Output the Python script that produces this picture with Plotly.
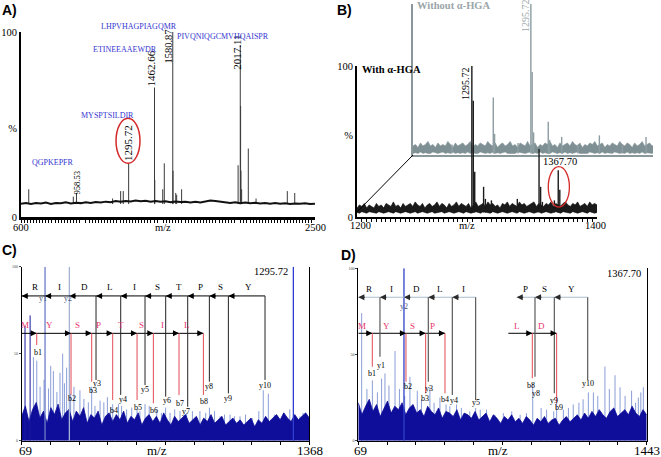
import plotly.graph_objects as go

W, H = 661, 457
SERIF = "Liberation Serif, Times New Roman, serif"
SANS = "Liberation Sans, Arial, sans-serif"

# ======================= DATA =======================
# ---- Panel A : peptide mass fingerprint, m/z 600-2500 ----
a_peak_mz = [650, 938, 958.53, 1192, 1244, 1261, 1295.72, 1462.66, 1464.5, 1516, 1526,
             1580.87, 1582.6, 1600, 1606, 1638, 2003, 2017.11, 2019.2, 2021.4, 2026, 2069,
             2119, 2321, 2369]
a_peak_int = [15, 11, 13, 10, 14, 14, 29, 70, 20, 15, 29,
              100, 25, 13, 12, 15, 28, 93, 60, 25, 15, 37,
              10, 14, 13]
a_baseline = [7.2, 7.6, 7.0, 7.5, 7.3, 7.8, 7.1, 7.6, 7.4, 7.9, 7.3, 7.7, 7.5, 8.0, 7.6,
              8.1, 7.8, 8.3, 8.0, 8.6, 8.2, 8.7, 8.4, 8.9, 8.5, 8.8, 8.3, 8.6, 8.2, 8.5,
              8.0, 8.4, 8.1, 8.3, 7.9, 8.2, 7.8, 8.4, 8.9, 8.6, 8.2, 7.9, 7.6, 7.9, 7.5,
              7.8, 7.4, 7.7, 7.3, 7.6, 7.2, 7.5, 7.1, 7.4, 7.0, 7.3, 7.1, 7.4, 7.0, 7.2]
a_mass_labels = ["958.53", "1295.72", "1462.66", "1580.87", "2017.11"]
a_mass_label_mz = [958.53, 1295.72, 1462.66, 1580.87, 2017.11]
a_peptides = ["QGPKEPFR", "MYSPTSILDIR", "ETINEEAAEWDR", "LHPVHAGPIAGQMR", "PIVQNIQGCMVHQAISPR"]
a_xticks = ["600", "m/z", "2500"]
a_yticks = ["0", "%", "100"]

# ---- Panel B : zoom 1200-1400, without / with alpha-HGA ----
bg_peak_mz = [1230, 1247.8, 1264.4, 1265.5, 1285, 1295.72, 1296.8, 1298, 1310.2, 1311.3,
              1321.4, 1335, 1352.8, 1372, 1391.7]
bg_peak_int = [7, 8, 38, 14, 8, 100, 55, 15, 22, 10, 12, 7, 13, 7, 12]
bg_noise_hi = [6, 7, 5, 8, 6, 7, 9, 6, 7, 5, 8, 6, 7, 6, 9, 7, 5, 8, 6, 7,
               8, 6, 7, 9, 5, 7, 6, 8, 7, 6, 9, 7, 6, 8, 5, 7, 8, 6, 7, 9,
               6, 7, 5, 8, 7, 6, 9, 6, 7, 8, 5, 7, 6, 8, 7, 9, 6, 7, 5, 8,
               6, 7, 8, 6, 9, 7, 6, 8, 5, 7, 6, 8, 7, 9, 6, 7, 8, 5, 7, 6,
               8, 7, 6, 9, 7, 6, 8, 7, 5, 8, 6, 7, 9, 6, 7, 8, 6, 7, 5, 8]
bg_noise_lo = [1, 1.5, 1, 2, 1, 1.5, 1, 1, 2, 1.5, 1, 1.5, 2, 1, 1.5, 1, 2, 1, 1.5, 1,
               1.5, 1, 2, 1, 1.5, 1, 1, 2, 1.5, 1, 1.5, 1, 2, 1, 1.5, 1, 1.5, 2, 1, 1,
               1.5, 1, 2, 1.5, 1, 1, 1.5, 2, 1, 1.5, 1, 2, 1, 1.5, 1, 1, 2, 1.5, 1, 1.5,
               1, 2, 1, 1.5, 1, 1.5, 2, 1, 1, 1.5, 1, 2, 1.5, 1, 1.5, 1, 2, 1, 1.5, 1,
               1, 2, 1.5, 1, 1.5, 1, 2, 1, 1.5, 1, 1.5, 1, 2, 1, 1.5, 1, 1, 2, 1.5, 1]
bw_peak_mz = [1295.72, 1296.9, 1298.1, 1305.5, 1307, 1312, 1333.6, 1351.7, 1353, 1354.5,
              1364.5, 1367.70, 1369, 1370.3]
bw_peak_int = [100, 77, 30, 20, 12, 11, 12, 45, 20, 10, 11, 31, 18, 8]
bw_noise_hi = [6, 8, 7, 9, 6, 8, 7, 6, 9, 7, 8, 6, 9, 8, 7, 10, 7, 8, 6, 9,
               7, 8, 9, 7, 10, 8, 7, 9, 6, 8, 9, 7, 8, 10, 7, 9, 8, 6, 9, 7,
               8, 10, 7, 9, 8, 7, 9, 6, 8, 10, 7, 8, 9, 7, 10, 8, 9, 7, 8, 6,
               9, 8, 10, 7, 9, 8, 7, 10, 8, 9, 7, 8, 9, 10, 7, 9, 8, 7, 9, 8,
               10, 7, 9, 8, 7, 9, 10, 8, 7, 9, 8, 10, 7, 8, 9, 7, 10, 8, 9, 8]
bw_noise_lo = [3, 2.5, 3.5, 3, 2.5, 3.5, 3, 3, 2.5, 3.5, 3, 2.5, 3, 3.5, 3, 2.5, 3.5, 3, 2.5, 3,
               3.5, 3, 2.5, 3, 3.5, 2.5, 3, 3.5, 3, 2.5, 3, 3.5, 2.5, 3, 3, 3.5, 2.5, 3, 3.5, 3,
               2.5, 3, 3.5, 3, 2.5, 3.5, 3, 2.5, 3, 3.5, 3, 2.5, 3.5, 3, 3, 2.5, 3.5, 3, 2.5, 3,
               3.5, 3, 2.5, 3, 3.5, 3, 2.5, 3.5, 3, 2.5, 3, 3.5, 3, 2.5, 3, 3.5, 2.5, 3, 3.5, 3,
               2.5, 3, 3.5, 3, 2.5, 3.5, 3, 3, 2.5, 3.5, 3, 2.5, 3, 3.5, 3, 2.5, 3.5, 3, 2.5, 3]
b_xticks = ["1200", "m/z", "1400"]
b_yticks = ["0", "%", "100"]

# ---- Panel C : MS/MS of 1295.72 (MYSPTSILDIR) ----
c_noise = [14, 20, 11, 18, 22, 13, 17, 10, 19, 15, 21, 12, 16, 18, 11, 17, 14, 19, 10, 15,
           13, 17, 9, 14, 16, 11, 15, 12, 17, 10, 14, 12, 16, 9, 13, 15, 11, 14, 10, 16,
           12, 9, 14, 11, 13, 15, 10, 12, 14, 9, 13, 11, 15, 10, 12, 14, 9, 11, 13, 10,
           12, 9, 11, 13, 8, 12, 10, 14, 11, 13, 15, 12, 16, 13, 11, 15, 12, 14, 16, 13]
c_spike_mz = [122, 137, 152, 170, 190, 200, 212, 228, 242, 254, 262, 272, 290, 305, 332, 350,
              370, 385, 400, 423, 440, 456, 470, 480, 506, 520, 543, 566, 590, 603, 626, 645,
              679, 700, 719, 739, 760, 784, 814, 840, 874, 900, 917, 940, 965, 985, 1010,
              1030, 1055, 1080, 1110, 1140, 1160, 1183, 1210, 1251, 1280, 1300, 1326, 1340, 1356]
c_spike_int = [48, 46, 31, 35, 30, 43, 40, 28, 39, 50, 33, 42, 27, 31, 29, 24,
               22, 31, 20, 23, 22, 25, 19, 21, 21, 20, 18, 19, 18, 17, 21, 20,
               18, 16, 19, 16, 18, 17, 16, 17, 17, 16, 19, 17, 14, 15, 15,
               14, 14, 15, 13, 17, 29, 27, 15, 16, 18, 14, 14, 16, 15]
c_dark_mz = [84, 107]
c_dark_int = [66, 72]
c_tall_mz = [174.4, 284.3, 1296]
c_tall_int = [100, 100, 100]
c_y_ions = ["y1", "y2", "y3", "y4", "y5", "y6", "y7", "y8", "y9", "y10"]
c_y_mz = [174.4, 284.3, 404.7, 516.2, 626, 719.4, 818.8, 916.6, 1002.5, 1168]
c_y_res = ["R", "I", "D", "L", "I", "S", "T", "P", "S", "Y"]
c_b_ions = ["b1", "b2", "b3", "b4", "b5", "b6", "b7", "b8"]
c_b_mz = [136.8, 291.8, 385.2, 480, 590, 663.7, 779.6, 889.6]
c_b_res = ["M", "Y", "S", "P", "T", "S", "I", "L"]
c_xticks = ["69", "m/z", "1368"]

# ---- Panel D : MS/MS of 1367.70 ----
d_noise = [22, 15, 20, 24, 17, 21, 14, 19, 23, 16, 20, 18, 22, 15, 19, 21, 16, 18, 14, 20,
           17, 15, 19, 13, 17, 16, 14, 18, 12, 16, 15, 13, 17, 12, 14, 16, 11, 15, 13, 10,
           14, 12, 15, 11, 13, 10, 14, 12, 9, 13, 11, 14, 10, 12, 13, 9, 12, 14, 11, 13,
           15, 12, 16, 13, 17, 14, 18, 15, 13, 17, 19, 14, 16, 18, 15, 20, 16, 14, 18, 15]
d_spike_mz = [85, 110, 136, 160, 180, 196, 215, 244, 265, 290, 315, 350, 370, 410, 430, 458,
              487, 505, 537, 560, 600, 628, 650, 680, 720, 760, 800, 840, 870, 900, 940, 966,
              1000, 1014, 1046, 1070, 1093, 1120, 1140, 1165, 1189, 1210, 1244, 1265, 1292,
              1316, 1340, 1371, 1390, 1403, 1415, 1427]
d_spike_int = [74, 30, 35, 28, 36, 39, 32, 52, 30, 26, 37, 29, 24, 31, 22, 25,
               21, 20, 21, 19, 17, 19, 18, 18, 15, 16, 17, 15, 16, 33, 19, 18,
               17, 22, 18, 19, 21, 22, 24, 28, 28, 26, 43, 30, 38,
               31, 26, 29, 22, 25, 28, 31]
d_tall_mz = [286.6]
d_tall_int = [100]
d_y_ions = ["y1", "y3", "y4", "y5", "y8", "y9", "y10"]
d_y_mz = [172.2, 402.6, 517, 628, 910.8, 1003, 1161.8]
d_y_seg = [(69, 172.2), (172.2, 286.6), (286.6, 402.6), (402.6, 517), (517, 628),
           (823.5, 910.8), (910.8, 1003), (1003, 1161.8)]
d_y_res = ["R", "I", "D", "L", "I", "P", "S", "Y"]
d_b_ions = ["b1", "b2", "b3", "b4", "b8", "b9"]
d_b_mz = [135.7, 296.1, 389.9, 482, 898, 1014]
d_b_seg = [(69, 135.7), (135.7, 296.1), (296.1, 389.9), (389.9, 482), (783.8, 898), (898, 1014)]
d_b_res = ["M", "Y", "S", "P", "L", "D"]
d_xticks = ["69", "m/z", "1443"]

# ======================= LAYOUT / STYLE =======================
def dom_x(p0, p1):
    return [p0 / W, p1 / W]

def dom_y(top, bottom):
    return [1 - bottom / H, 1 - top / H]

def py(p):
    return 1 - p / H

RED = "#e24a55"
REDTXT = "#e8336b"
BLUE_TXT = "#3535d0"
NAVY = "#0e0e9a"
LIGHTBLUE = "#8a9ed8"
GRAY = "#7f9095"

A_DOMX = dom_x(21, 315)
A_DOMY = dom_y(32, 217)

def a_paper_y(v):
    # intensity value (0-100) of panel A -> paper fraction (for text above the axis range)
    return A_DOMY[0] + v / 100 * (A_DOMY[1] - A_DOMY[0])

fig = go.Figure()

def add_lines(X, Y, xa, ya, color, width, fill=None, fillcolor=None):
    fig.add_trace(go.Scatter(x=X, y=Y, mode="lines", line=dict(color=color, width=width),
                             fill=fill, fillcolor=fillcolor, xaxis=xa, yaxis=ya,
                             hoverinfo="skip", showlegend=False))

def sticks(xs, ys, base):
    X, Y = [], []
    for x, y in zip(xs, ys):
        X += [x, x, None]
        Y += [base, y, None]
    return X, Y

def grid(start, stop, n):
    step = (stop - start) / (n - 1)
    return [start + i * step for i in range(n)]

# ---------- Panel A ----------
X, Y = sticks(a_peak_mz, a_peak_int, 7)
add_lines(X, Y, "x", "y", "#3a3a3a", 1)
add_lines(grid(600, 2500, len(a_baseline)), a_baseline, "x", "y", "#111111", 2)

# ---------- Panel B (gray, behind) ----------
gx = grid(1197.5, 1403, len(bg_noise_hi))
add_lines(gx, bg_noise_lo, "x2", "y2", GRAY, 0.5)
add_lines(gx, bg_noise_hi, "x2", "y2", GRAY, 0.6, fill="tonexty", fillcolor=GRAY)
X, Y = sticks(bg_peak_mz, bg_peak_int, 1)
add_lines(X, Y, "x2", "y2", "#8d9da2", 1.4)

# ---------- Panel B (black, front) ----------
bx = grid(1200, 1400, len(bw_noise_hi))
add_lines(bx, bw_noise_lo, "x3", "y3", "black", 0.5)
add_lines(bx, bw_noise_hi, "x3", "y3", "black", 0.6, fill="tonexty", fillcolor="#1a1a1a")
X, Y = sticks(bw_peak_mz, bw_peak_int, 3)
add_lines(X, Y, "x3", "y3", "#1a1a1a", 1.4)

# ---------- Panel C ----------
X, Y = sticks(c_spike_mz, c_spike_int, 0)
add_lines(X, Y, "x4", "y4", LIGHTBLUE, 1)
add_lines(grid(69, 1368, len(c_noise)), c_noise, "x4", "y4", NAVY, 0.8, fill="tozeroy", fillcolor=NAVY)
X, Y = sticks(c_dark_mz, c_dark_int, 0)
add_lines(X, Y, "x4", "y4", "#1a1aa0", 1)
for mz, h, col in zip(c_tall_mz, c_tall_int, ["#6c7cc8", "#a4b2d6", "#2f3fd0"]):
    X, Y = sticks([mz], [h], 0)
    add_lines(X, Y, "x4", "y4", col, 1.3)

# ---------- Panel D ----------
X, Y = sticks(d_spike_mz, d_spike_int, 0)
add_lines(X, Y, "x5", "y5", LIGHTBLUE, 1)
add_lines(grid(69, 1443, len(d_noise)), d_noise, "x5", "y5", NAVY, 0.8, fill="tozeroy", fillcolor=NAVY)
X, Y = sticks(d_tall_mz, d_tall_int, 0)
add_lines(X, Y, "x5", "y5", "#3040c8", 1.3)

annotations = []
shapes = []

def txt(x, y, text, xref, yref, size=8, color="black", family=SERIF, angle=0,
        xanchor="center", yanchor="middle", xshift=0, yshift=0, bold=False):
    if bold:
        text = "<b>" + text + "</b>"
    annotations.append(dict(x=x, y=y, xref=xref, yref=yref, text=text, showarrow=False,
                            textangle=angle, xanchor=xanchor, yanchor=yanchor,
                            xshift=xshift, yshift=yshift,
                            font=dict(family=family, size=size, color=color)))

def head(x, y, xref, yref, direction, color="black"):
    annotations.append(dict(x=x, y=y, xref=xref, yref=yref, text="", showarrow=True,
                            ax=(8 if direction == "left" else -8), ay=0,
                            arrowhead=2, arrowsize=1.1, arrowwidth=1.1, arrowcolor=color,
                            standoff=0, startstandoff=0))

# ---- x tick labels (placed like the original figure's labels) ----
def xlabels(xref, vals, texts, ypix, size, shifts):
    for v, t, s in zip(vals, texts, shifts):
        txt(v, py(ypix), t, xref, "paper", size=size, xshift=s)

xlabels("x", [600, 1518, 2500], a_xticks, 227, 10.5, [0, 0, 0])
xlabels("x3", [1200, 1292, 1400], b_xticks, 225, 10.5, [4, 0, -2])
xlabels("x4", [69, 680, 1368], c_xticks, 450, 13, [4, 0, 1])
xlabels("x5", [69, 736, 1443], d_xticks, 450, 13, [2, 0, 0])

# ---- Panel A texts ----
a_lab_y = [18.4, 39.8, 80.6, 92.0, 88.9]
a_lab_dx = [0, 0, -4, -4, -4]
a_lab_size = [8.5, 11, 11, 10.5, 11]
for lab, mz, ly, dxp, sz in zip(a_mass_labels, a_mass_label_mz, a_lab_y, a_lab_dx, a_lab_size):
    txt(mz, ly, lab, "x", "y", size=sz, angle=-90, xshift=dxp)
a_pep_pos = [(807, 29.2), (1162, 55.1), (1272, 90.8), (1363, 103.2), (1906, 97.8)]
for pep, (px_, py_) in zip(a_peptides, a_pep_pos):
    txt(px_, a_paper_y(py_), pep, "x", "paper", size=8, color=BLUE_TXT)
shapes.append(dict(type="circle", xref="x", yref="y", x0=1214, x1=1369, y0=29.0, y1=53.4,
                   line=dict(color="#d42a2a", width=1.5)))

# ---- Panel B texts ----
txt(1199.2, 99.3, "Without α-HGA", "x2", "y2", size=10.5, color="#9aa6a9", xanchor="left", bold=True)
txt(1295.72, 92.7, "1295.72", "x2", "y2", size=10, color="#9aa6a9", angle=-90, xshift=-6)
txt(1202.5, 97.4, "With α-HGA", "x3", "y3", size=10.5, xanchor="left", bold=True)
txt(1295.72, 88.7, "1295.72", "x3", "y3", size=10, angle=-90, xshift=-7)
txt(1367.70, 36.6, "1367.70", "x3", "y3", size=10.5, xshift=2)
shapes.append(dict(type="circle", xref="x3", yref="y3", x0=1359.4, x1=1377, y0=6.6, y1=33.3,
                   line=dict(color="#d42a2a", width=1.3)))
bdx = dom_x(357, 597)
bdy = dom_y(66, 217)
gdx = dom_x(413, 653)
gdy = dom_y(4, 155)
shapes.append(dict(type="line", xref="paper", yref="paper", x0=bdx[0], y0=bdy[0] + 5 / H,
                   x1=gdx[0], y1=gdy[0], line=dict(color="black", width=1)))

# ---- Panel C annotation ladder ----
C_YROW, C_YLET, C_BROW, C_BLET = 83.2, 88.4, 61.7, 66.6
prev = 69
for i, mz in enumerate(c_y_mz):
    add_lines([prev, mz], [C_YROW, C_YROW], "x4", "y4", "black", 1)
    head(prev, C_YROW, "x4", "y4", "left")
    txt((prev + mz) / 2, C_YLET, c_y_res[i], "x4", "y4", size=9, xshift=2)
    prev = mz
prev = 69
for i, mz in enumerate(c_b_mz):
    add_lines([prev, mz], [C_BROW, C_BROW], "x4", "y4", "black", 1)
    head(mz, C_BROW, "x4", "y4", "right")
    txt((prev + mz) / 2, C_BLET, c_b_res[i], "x4", "y4", size=9, color=REDTXT, xshift=-4)
    prev = mz
c_y_end = [None, None, 34.9, 26.3, 32.0, 25.3, 19.5, 33.9, 27.2, 34.9]
c_y_lab = [81.9, 81.9, 33.0, 23.8, 29.6, 23.0, 16.7, 31.1, 24.4, 32.0]
c_y_dx = [-2, -1, 1, 2, 0, 1, -2, 0, 0, 0]
for name, mz, e, ly, dxp in zip(c_y_ions, c_y_mz, c_y_end, c_y_lab, c_y_dx):
    if e is not None:
        add_lines([mz, mz], [C_YROW, e], "x4", "y4", "#222222", 1)
    txt(mz, ly, name, "x4", "y4", size=8, xshift=dxp, color=("#505a80" if e is None else "black"))
c_b_end = [55.0, 26.3, 33.9, 23.4, 23.4, 21.5, 26.3, 26.3]
c_b_lab = [50.6, 24.4, 28.8, 17.3, 19.2, 17.3, 21.1, 22.4]
for name, mz, e, ly in zip(c_b_ions, c_b_mz, c_b_end, c_b_lab):
    add_lines([mz, mz], [C_BROW, e], "x4", "y4", RED, 1)
    txt(mz, ly, name, "x4", "y4", size=8, xshift=1)
txt(1296, 97, "1295.72", "x4", "y4", size=10.5, xanchor="right", xshift=-3)

# ---- Panel D annotation ladder ----
D_YROW, D_YLET, D_BROW, D_BLET = 83.2, 88.0, 62.3, 66.8
for (lo, hi), r in zip(d_y_seg, d_y_res):
    add_lines([lo, hi], [D_YROW, D_YROW], "x5", "y5", "#a9bccb", 1.2)
    head(lo, D_YROW, "x5", "y5", "left", color="#2a2a2a")
    txt((lo + hi) / 2, D_YLET, r, "x5", "y5", size=9)
for (lo, hi), r in zip(d_b_seg, d_b_res):
    add_lines([lo, hi], [D_BROW, D_BROW], "x5", "y5", "black", 1)
    head(hi, D_BROW, "x5", "y5", "right")
    txt((lo + hi) / 2, D_BLET, r, "x5", "y5", size=9, color=REDTXT, xshift=-3)
d_y_end = [48.7, 34.2, 26.5, 23.6, 37.1, 27.5, 35.2]
d_y_lab = [43.9, 30.3, 23.6, 22.1, 27.5, 23.6, 32.9]
d_y_dx = [1, 1, 2, 0, 1, 0, 0]
for name, mz, e, ly, dxp in zip(d_y_ions, d_y_mz, d_y_end, d_y_lab, d_y_dx):
    add_lines([mz, mz], [D_YROW, e], "x5", "y5", "#5a5a5a", 1.2)
    txt(mz, ly, name, "x5", "y5", size=8, xshift=dxp)
txt(286.6, 77.8, "y2", "x5", "y5", size=8, color="#505a80")
d_b_end = [42.9, 34.2, 27.5, 27.5, 36.2, 21.7]
d_b_lab = [38.7, 31.3, 24.6, 24.0, 32.3, 19.3]
d_b_dx = [0, 2, -1, 0, -1, 2]
for name, mz, e, ly, dxp in zip(d_b_ions, d_b_mz, d_b_end, d_b_lab, d_b_dx):
    add_lines([mz, mz], [D_BROW, e], "x5", "y5", RED, 1)
    txt(mz, ly, name, "x5", "y5", size=8, xshift=dxp)
txt(1443, 97, "1367.70", "x5", "y5", size=10.5, xanchor="right", xshift=-4)

# ---- Panel letters ----
for lab, (px_, py_) in zip(["A)", "B)", "C)", "D)"], [(0, 10), (335, 10), (0, 250), (339, 255)]):
    annotations.append(dict(x=px_ / W, y=py(py_), xref="paper", yref="paper", text="<b>" + lab + "</b>",
                            showarrow=False, xanchor="left", yanchor="middle",
                            font=dict(family=SANS, size=14, color="black")))

# ======================= AXES =======================
def axis(**kw):
    d = dict(showgrid=False, zeroline=False, showline=True, linecolor="black", linewidth=1,
             ticks="", showticklabels=False, automargin=False,
             tickfont=dict(family=SERIF, size=10.5, color="black"), fixedrange=True)
    d.update(kw)
    return d

def minor(t0, dt):
    return dict(tickmode="linear", tick0=t0, dtick=dt, ticks="outside", ticklen=3,
                tickcolor="black", tickwidth=1)

fig.update_layout(
    template="none",
    width=W, height=H, margin=dict(l=0, r=0, t=0, b=0, pad=0),
    paper_bgcolor="white", plot_bgcolor="rgba(0,0,0,0)",
    showlegend=False, hovermode=False,
    xaxis=axis(domain=A_DOMX, range=[600, 2500], anchor="y", linewidth=3,
               minor=minor(600, 20)),
    yaxis=axis(domain=A_DOMY, range=[0, 100], anchor="x", linewidth=2,
               showticklabels=True, tickmode="array", tickvals=[0, 48, 100], ticktext=a_yticks),
    xaxis2=axis(domain=gdx, range=[1197.5, 1397.5], anchor="y2", linecolor="#8a989c",
                linewidth=2),
    yaxis2=axis(domain=gdy, range=[0, 100], anchor="x2", linecolor="#8a989c", linewidth=1.5),
    xaxis3=axis(domain=bdx, range=[1200, 1400], anchor="y3", linewidth=2,
                minor=minor(1200, 4)),
    yaxis3=axis(domain=bdy, range=[0, 100], anchor="x3", linewidth=2,
                showticklabels=True, tickmode="array", tickvals=[0, 54, 100], ticktext=b_yticks),
    xaxis4=axis(domain=dom_x(21.7, 309.3), range=[69, 1368], anchor="y4",
                minor=minor(69, 129.9)),
    yaxis4=axis(domain=dom_y(266.7, 440.7), range=[0, 100], anchor="x4", mirror=True,
                showticklabels=True, tickmode="array", tickvals=[0, 50, 100],
                ticktext=["0", "50", "100"], ticks="outside", ticklen=2,
                tickfont=dict(family=SERIF, size=4, color="#444")),
    xaxis5=axis(domain=dom_x(358.3, 646.7), range=[69, 1443], anchor="y5",
                minor=minor(69, 137.4)),
    yaxis5=axis(domain=dom_y(268.3, 440.7), range=[0, 100], anchor="x5", mirror=True,
                showticklabels=True, tickmode="array", tickvals=[0, 50, 100],
                ticktext=["0", "50", "100"], ticks="outside", ticklen=2,
                tickfont=dict(family=SERIF, size=4, color="#444")),
    annotations=annotations,
    shapes=shapes,
)

fig.write_html("out.html", config={"displayModeBar": False},
               post_script="document.body.style.margin='0';document.body.style.overflow='hidden';")
